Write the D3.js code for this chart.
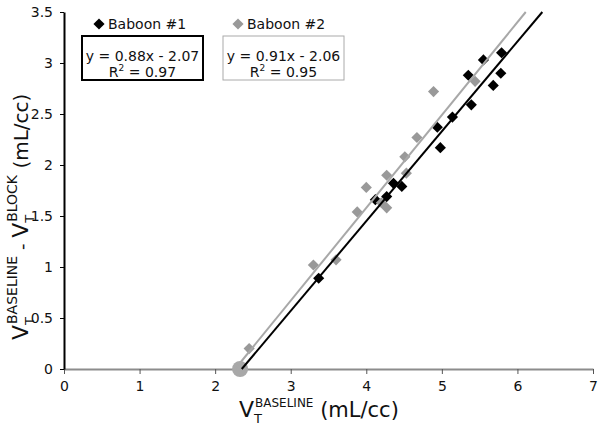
<!DOCTYPE html>
<html>
<head>
<meta charset="utf-8">
<script src="https://cdn.jsdelivr.net/npm/d3@7"></script>
<style>
  html, body { margin: 0; padding: 0; background: #fff; }
  svg { display: block; font-family: "DejaVu Sans", Verdana, sans-serif; }
</style>
</head>
<body>
<svg id="chart" width="602" height="431"></svg>
<script>
// ---- data ----
const seriesNames = ["Baboon #1", "Baboon #2"];
const xTicks = [0, 1, 2, 3, 4, 5, 6, 7];
const yTicks = [0, 0.5, 1, 1.5, 2, 2.5, 3, 3.5];

const baboon1X = [3.37, 4.12, 4.27, 4.36, 4.47, 4.98, 4.94, 5.14, 5.39, 5.35, 5.55, 5.68, 5.78, 5.79];
const baboon1Y = [0.89, 1.66, 1.69, 1.82, 1.79, 2.17, 2.37, 2.47, 2.59, 2.88, 3.03, 2.78, 2.90, 3.10];

const baboon2X = [2.45, 3.30, 3.60, 3.88, 4.00, 4.20, 4.27, 4.27, 4.53, 4.51, 4.67, 4.89, 5.44];
const baboon2Y = [0.20, 1.02, 1.07, 1.54, 1.78, 1.63, 1.58, 1.90, 1.92, 2.08, 2.27, 2.72, 2.82];

const interceptX = [2.33];
const interceptY = [0];

const fitSlope = [0.88, 0.91];
const fitIntercept = [-2.07, -2.06];
const fitR2 = ["0.97", "0.95"];
const fitLabels = ["y = 0.88x - 2.07", "y = 0.91x - 2.06"];

// ---- drawing ----
const svg = d3.select("#chart");
const colors = ["#000000", "#999999"];
const lineColors = ["#000000", "#a8a8a8"];

const x = d3.scaleLinear().domain([0, 7]).range([64, 593]);
const y = d3.scaleLinear().domain([0, 3.5]).range([369, 12]);

// x axis
const xAxis = svg.append("g")
  .attr("transform", `translate(0,${y(0)})`)
  .call(d3.axisBottom(x).tickValues(xTicks).tickSize(5).tickSizeOuter(0).tickPadding(7).tickFormat(d3.format("d")));
xAxis.select(".domain").attr("stroke", "#8c8c8c").attr("stroke-width", 2);
xAxis.selectAll(".tick line").attr("stroke", "#555");
xAxis.selectAll(".tick text").attr("font-size", 14).attr("fill", "#111").attr("font-family", "DejaVu Sans");

// y axis
const yAxis = svg.append("g")
  .attr("transform", `translate(${x(0)},0)`)
  .call(d3.axisLeft(y).tickValues(yTicks).tickSize(4).tickSizeOuter(0).tickPadding(7).tickFormat(d => String(d)));
yAxis.select(".domain").attr("stroke", "#000").attr("stroke-width", 2);
yAxis.selectAll(".tick line").attr("stroke", "#000");
yAxis.selectAll(".tick text").attr("font-size", 14).attr("fill", "#111").attr("font-family", "DejaVu Sans");

// markers
const diamond = d3.symbol().type(d3.symbolSquare).size(62);
function drawSeries(xs, ys, color) {
  svg.append("g").selectAll("path")
    .data(xs.map((v, i) => [v, ys[i]]))
    .join("path")
    .attr("d", diamond)
    .attr("transform", d => `translate(${x(d[0])},${y(d[1])}) rotate(45)`)
    .attr("fill", color);
}
drawSeries(baboon1X, baboon1Y, colors[0]);
drawSeries(baboon2X, baboon2Y, colors[1]);

svg.append("g").selectAll("circle")
  .data(interceptX.map((v, i) => [v, interceptY[i]]))
  .join("circle")
  .attr("cx", d => x(d[0])).attr("cy", d => y(d[1])).attr("r", 8)
  .attr("fill", "#a8a8a8");

// fit lines, from y = 0 up to the top of the axis
[1, 0].forEach(i => {
  const x0 = (0 - fitIntercept[i]) / fitSlope[i];
  const x1 = (3.5 - fitIntercept[i]) / fitSlope[i];
  svg.append("line")
    .attr("x1", x(x0)).attr("y1", y(0))
    .attr("x2", x(x1)).attr("y2", y(3.5))
    .attr("stroke", lineColors[i]).attr("stroke-width", 2);
});

// legend
const legendX = [95, 234];
const boxX = [82, 223];
seriesNames.forEach((name, i) => {
  svg.append("path")
    .attr("d", diamond)
    .attr("transform", `translate(${legendX[i] + 4},24) rotate(45)`)
    .attr("fill", colors[i]);
  svg.append("text")
    .attr("x", legendX[i] + 13).attr("y", 29)
    .attr("font-size", 14).attr("fill", "#111")
    .text(name);
  svg.append("rect")
    .attr("x", boxX[i]).attr("y", 36).attr("width", 121).attr("height", 44)
    .attr("fill", "#fff")
    .attr("stroke", i === 0 ? "#000" : "#aaa")
    .attr("stroke-width", i === 0 ? 2 : 1);
  svg.append("text")
    .attr("x", boxX[i] + 60.5).attr("y", 61)
    .attr("text-anchor", "middle").attr("font-size", 14).attr("fill", "#111")
    .text(fitLabels[i]);
  const r = svg.append("text")
    .attr("x", boxX[i] + 60.5).attr("y", 77)
    .attr("text-anchor", "middle").attr("font-size", 14).attr("fill", "#111");
  r.append("tspan").text("R");
  r.append("tspan").attr("font-size", 9).attr("dy", -6).text("2");
  r.append("tspan").attr("dy", 6).text(" = " + fitR2[i]);
});

// x title
const xt = svg.append("text").attr("x", 239).attr("y", 417).attr("fill", "#111");
xt.append("tspan").attr("font-size", 22).text("V");
xt.append("tspan").attr("font-size", 13).attr("dy", 6).text("T");
xt.append("tspan").attr("font-size", 12).attr("dx", -7).attr("dy", -16).text("BASELINE");
xt.append("tspan").attr("font-size", 21).attr("dy", 10).text(" (mL/cc)");

// y title
const yt = svg.append("text").attr("transform", "translate(28,340) rotate(-90)").attr("fill", "#111");
yt.append("tspan").attr("font-size", 22).text("V");
yt.append("tspan").attr("font-size", 13).attr("dy", 6).text("T");
yt.append("tspan").attr("font-size", 14).attr("dx", -7).attr("dy", -17).text("BASELINE");
yt.append("tspan").attr("font-size", 18).attr("dy", 11).text(" - ");
yt.append("tspan").attr("font-size", 22).text("V");
yt.append("tspan").attr("font-size", 13).attr("dy", 6).text("T");
yt.append("tspan").attr("font-size", 14).attr("dx", -7).attr("dy", -17).text("BLOCK");
yt.append("tspan").attr("font-size", 20).attr("dy", 11).text(" (mL/cc)");
</script>
</body>
</html>
